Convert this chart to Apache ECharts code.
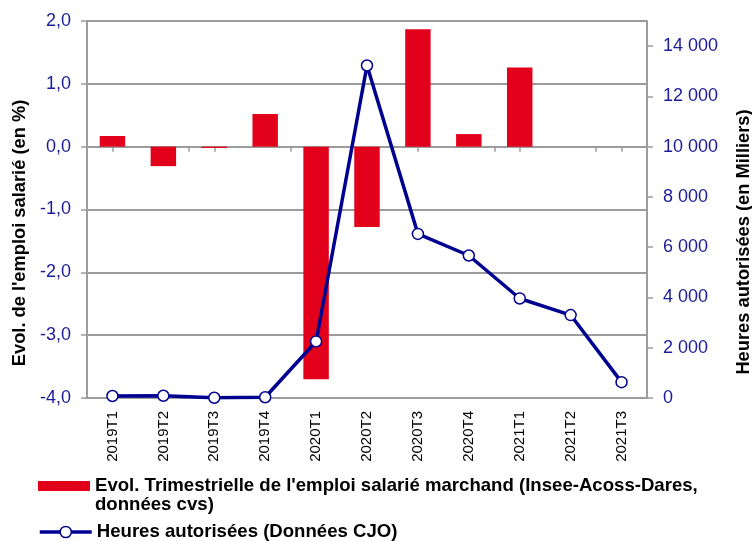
<!DOCTYPE html>
<html><head><meta charset="utf-8">
<script src="https://cdn.jsdelivr.net/npm/echarts@6/dist/echarts.min.js"></script>
<style>html,body{margin:0;padding:0;background:#fff}#c{width:752px;height:541px}</style>
</head><body><div id="c"></div>
<script>
const categories = ['2019T1','2019T2','2019T3','2019T4','2020T1','2020T2','2020T3','2020T4','2021T1','2021T2','2021T3'];
const emploiValues = [0.17, -0.31, -0.02, 0.52, -3.70, -1.28, 1.87, 0.20, 1.26, null, null];
const heuresValues = [80, 90, 10, 30, 2250, 13230, 6530, 5670, 3960, 3300, 630];
const leftAxisRange = [-4, 2, 1];       // min, max, interval
const rightAxisRange = [0, 15000, 2000]; // min, max, interval
const barName = "Evol. Trimestrielle de l'emploi salarié marchand (Insee-Acoss-Dares, données cvs)";
const lineName = "Heures autorisées (Données CJO)";
const leftTitle = "Evol. de l'emploi salarié (en %)";
const rightTitle = "Heures autorisées (en Milliers)";

const FONT = "'Liberation Sans', Arial, sans-serif";
const BLUE = '#1c1c98';
const NAVY = '#000090';
const RED = '#e2001a';
const GREY = '#9c9c9c';

const chart = echarts.init(document.getElementById('c'), null, {renderer: 'canvas'});
const fmtLeft = v => v.toFixed(1).replace('.', ',');
const fmtRight = v => String(v).replace(/\B(?=(\d{3})+(?!\d))/g, ' ');
const legendText = {fontFamily: FONT, fontSize: 18.6, fontWeight: 'bold', color: '#000', lineHeight: 19};

chart.setOption({
  animation: false,
  textStyle: {fontFamily: FONT},
  grid: {left: 87, right: 105, top: 21, bottom: 143, containLabel: false, outerBoundsMode: 'none'},
  legend: [
    {
      orient: 'vertical', left: 38, top: 457.5, padding: 0,
      itemWidth: 52, itemHeight: 10, icon: 'rect',
      textStyle: legendText,
      formatter: n => '\n' + n.replace(', données', ',\ndonnées'),
      data: [barName]
    },
    {
      orient: 'vertical', left: 38, top: 522.5, padding: 0,
      itemWidth: 52, itemHeight: 14,
      textStyle: legendText,
      lineStyle: {width: 3.5},
      itemStyle: {borderWidth: 1.5},
      data: [lineName]
    }
  ],
  xAxis: [
    {
      type: 'category', data: categories, position: 'bottom', gridIndex: 0,
      axisLine: {onZero: false, show: true, lineStyle: {color: GREY, width: 2}},
      axisTick: {show: false},
      axisLabel: {rotate: 90, margin: 13, fontSize: 15, color: '#000', fontFamily: FONT, interval: 0},
      splitLine: {show: false}
    },
    {
      type: 'category', data: categories, position: 'bottom', gridIndex: 0,
      axisLine: {onZero: true, onZeroAxisIndex: 0, lineStyle: {color: GREY, width: 2}},
      axisTick: {show: true, alignWithLabel: false, length: 5, lineStyle: {color: GREY, width: 1.5}},
      axisLabel: {show: false}
    },
    {
      type: 'category', data: categories, position: 'bottom', gridIndex: 0,
      axisLine: {onZero: true, onZeroAxisIndex: 0, show: false},
      axisTick: {show: true, alignWithLabel: true, length: 5, lineStyle: {color: GREY, width: 1.5}},
      axisLabel: {show: false}
    }
  ],
  yAxis: [
    {
      type: 'value', position: 'left',
      min: leftAxisRange[0], max: leftAxisRange[1], interval: leftAxisRange[2],
      name: leftTitle, nameLocation: 'middle', nameGap: 54, nameRotate: 90,
      nameTextStyle: {fontFamily: FONT, fontSize: 18.3, fontWeight: 'bold', color: '#000', padding: [0, 47, 0, 0]},
      axisLine: {show: true, lineStyle: {color: GREY, width: 2}},
      axisTick: {show: true, length: 6, lineStyle: {color: GREY, width: 1.5}},
      axisLabel: {formatter: fmtLeft, color: BLUE, fontSize: 18, margin: 16, fontFamily: FONT},
      splitLine: {show: true, lineStyle: {color: GREY, width: 2}}
    },
    {
      type: 'value', position: 'right',
      min: rightAxisRange[0], max: rightAxisRange[1], interval: rightAxisRange[2],
      name: rightTitle, nameLocation: 'middle', nameGap: 88, nameRotate: 90,
      nameTextStyle: {fontFamily: FONT, fontSize: 18.3, fontWeight: 'bold', color: '#000', padding: [0, 65, 0, 0]},
      axisLine: {show: true, lineStyle: {color: GREY, width: 2}},
      axisTick: {show: true, length: 6, lineStyle: {color: GREY, width: 1.5}},
      axisLabel: {formatter: fmtRight, color: BLUE, fontSize: 18, margin: 16, fontFamily: FONT, showMaxLabel: false},
      splitLine: {show: false}
    }
  ],
  series: [
    {
      name: barName, type: 'bar', xAxisIndex: 0, yAxisIndex: 0,
      data: emploiValues, barWidth: '50%',
      itemStyle: {color: RED}
    },
    {
      name: lineName, type: 'line', xAxisIndex: 0, yAxisIndex: 1,
      data: heuresValues,
      symbol: 'circle', symbolSize: 11,
      lineStyle: {color: NAVY, width: 3.5},
      itemStyle: {color: '#fff', borderColor: NAVY, borderWidth: 1.5}
    }
  ]
});
</script>
</body></html>
